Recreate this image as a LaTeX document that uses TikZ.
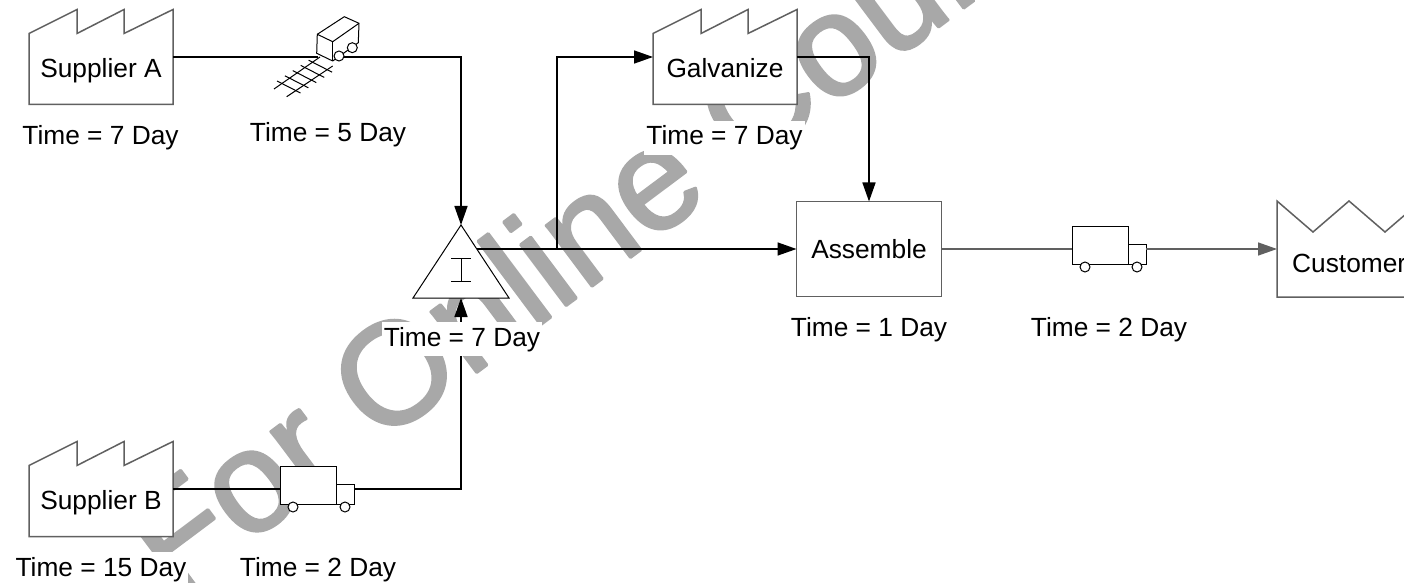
\documentclass[tikz,border=0pt]{standalone}
\usepackage{fontspec}
\setmainfont{Liberation Sans}
\newfontfamily\wmfont[FakeBold=2]{Liberation Sans}
\usetikzlibrary{arrows.meta,positioning,shapes.geometric,calc}
\definecolor{outline}{RGB}{96,96,96}
\definecolor{wmgray}{RGB}{168,168,168}

\newcommand{\plant}[1]{
\draw [plantline] (#1.south west) -- ++(0,-71) -- ++(48,-24) -- ++(0,24) -- ++(47,-24) -- ++(0,24) -- (#1.north east) -- (#1.south east) -- cycle;
}
\newcommand{\truck}[3]{
\node (#1) [truckbody] at (#2,#3) {};
\node (#1cab) [truckcab] at (#1.south east) {};
\node (#1rear) [wheel] at ($(#1.south west)+(13,3)$) {};
\node (#1front) [wheel] at ($(#1.south west)+(65,3)$) {};
}

\begin{document}
\begin{tikzpicture}[x=1pt, y=-1pt, scale=0.5, transform shape]
\tikzstyle{plantbox} = [rectangle, minimum width=144pt, minimum height=95pt, inner sep=0pt, outer sep=0pt]
\tikzstyle{plantline} = [draw=outline, fill=white, line width=0.75pt, line join=miter]
\tikzstyle{caption} = [anchor=base, font=\fontsize{26.3pt}{30pt}\selectfont, inner sep=0pt]
\tikzstyle{timelabel} = [caption, fill=white, inner xsep=2pt, inner ysep=5pt]
\tikzstyle{flow} = [line width=0.8pt, black]
\tikzstyle{flowgray} = [line width=0.75pt, outline]
\tikzstyle{arrow} = [-{Triangle[length=9.5pt,width=6.5pt]}]
\tikzstyle{truckbody} = [rectangle, draw=black, fill=white, line width=0.5pt, minimum width=56pt, minimum height=38pt, inner sep=0pt, outer sep=0pt]
\tikzstyle{truckcab} = [rectangle, draw=black, fill=white, line width=0.5pt, minimum width=18pt, minimum height=20pt, inner sep=0pt, outer sep=0pt, anchor=south west]
\tikzstyle{wheel} = [circle, draw=black, fill=white, line width=0.5pt, minimum size=10pt, inner sep=0pt, outer sep=0pt]
\tikzstyle{thin line} = [line width=0.5pt, black]

\useasboundingbox (0,0) rectangle (1404,583);
\clip (0,0) rectangle (1404,583);
\fill [white] (0,0) rectangle (1404,583);

\node (wmark) [anchor=base west, rotate=36.8, inner sep=0pt, text=wmgray, font=\wmfont\fontsize{144pt}{150pt}\selectfont] at (174,599) {\special{pdf:code 1 j 1 J}For Online Course};

\node (supA) [plantbox] at (101,57) {};
\node (supB) [plantbox] at (101,489) {};
\node (galv) [plantbox] at (725,57) {};
\node (asm) [rectangle, plantline, minimum width=145pt, minimum height=95pt, inner sep=0pt, outer sep=0pt] at (869,249) {};
\node (cust) [plantbox, minimum height=96pt] at (1349,249) {};
\node (inv) [rectangle, minimum width=96pt, minimum height=73pt, inner sep=0pt, outer sep=0pt] at (461,261.5) {};
\coordinate (invOut) at (477,249);
\coordinate (invBranch) at (557,249);
\coordinate (carBack) at (318,57);
\coordinate (carFront) at (344,57);

\plant{supA}
\plant{supB}
\plant{galv}
\draw [plantline] (cust.south west) -- (cust.north west) -- ++(36,31) -- ++(36,-31) -- ++(36,31) -- (cust.north east) -- (cust.south east) -- cycle;

\truck{truckB}{308}{485}
\truck{truckC}{1100}{245}

\draw [flow] (supA.east) -- (carBack);
\draw [flow, arrow] (carFront) -| (inv.north);
\draw [flow] (supB.east) -- (truckB.west |- supB.east);
\draw [flow, arrow] (truckBcab.east |- supB.east) -| (inv.south);
\draw [flow, arrow] (invOut) -- (asm.west);
\draw [flow, arrow] (invBranch) |- (galv.west);
\draw [flow, arrow] (galv.east) -| (asm.north);
\draw [flowgray] (asm.east) -- (truckC.west |- asm.east);
\draw [flowgray, arrow] (truckCcab.east |- cust.west) -- (cust.west);

% rail wagon
\draw [thin line] (320,57) -- (274,89);
\draw [thin line] (332.7,66) -- (286.7,96.7);
\foreach \i in {0,...,4}
  \draw [thin line] ($(277,81)+(\i*7.9,-\i*5.2)$) -- ++(23.5,12);
\draw [thin line, fill=white, line join=round] (317.3,34.3) -- (344.3,16.7) -- (359,23.3) -- (358.3,42.7) -- (332.7,61) -- (316.7,53.3) -- cycle;
\draw [thin line] (317.3,34.3) -- (332.7,41.7) -- (359,23.3);
\draw [thin line] (332.7,41.7) -- (332.7,61);
\node (carRear) [wheel] at (352.3,47.7) {};
\node (carNear) [wheel] at (339,56) {};

\draw [line width=0.5pt, black, fill=white] (inv.north) -- (inv.south east) -- (inv.south west) -- cycle;
\draw [thin line] ($(inv.center)+(-10,-3.2)$) -- ++(20,0);
\draw [thin line] ($(inv.center)+(-10,19.5)$) -- ++(20,0);
\draw [thin line] ($(inv.center)+(0,-3.2)$) -- ++(0,22.7);

\node (supAtext) [caption] at (101,78) {Supplier A};
\node (supBtext) [caption] at (101,509) {Supplier B};
\node (galvtext) [caption] at (725,78) {Galvanize};
\node (asmtext) [caption] at (869,258) {Assemble};
\node (custtext) [caption, anchor=base west] at (1292,272) {Customer};

\node (timeSupA) [timelabel] at (100.5,145) {Time = 7 Day};
\node (timeRail) [timelabel] at (328,142) {Time = 5 Day};
\node (timeInv) [timelabel] at (462,346) {Time = 7 Day};
\node (timeGalv) [timelabel] at (724.5,145) {Time = 7 Day};
\node (timeAsm) [timelabel] at (869,336) {Time = 1 Day};
\node (timeTruckC) [timelabel] at (1109,336) {Time = 2 Day};
\node (timeSupB) [timelabel] at (101,576) {Time = 15 Day};
\node (timeTruckB) [timelabel] at (318,576) {Time = 2 Day};
\end{tikzpicture}
\end{document}
